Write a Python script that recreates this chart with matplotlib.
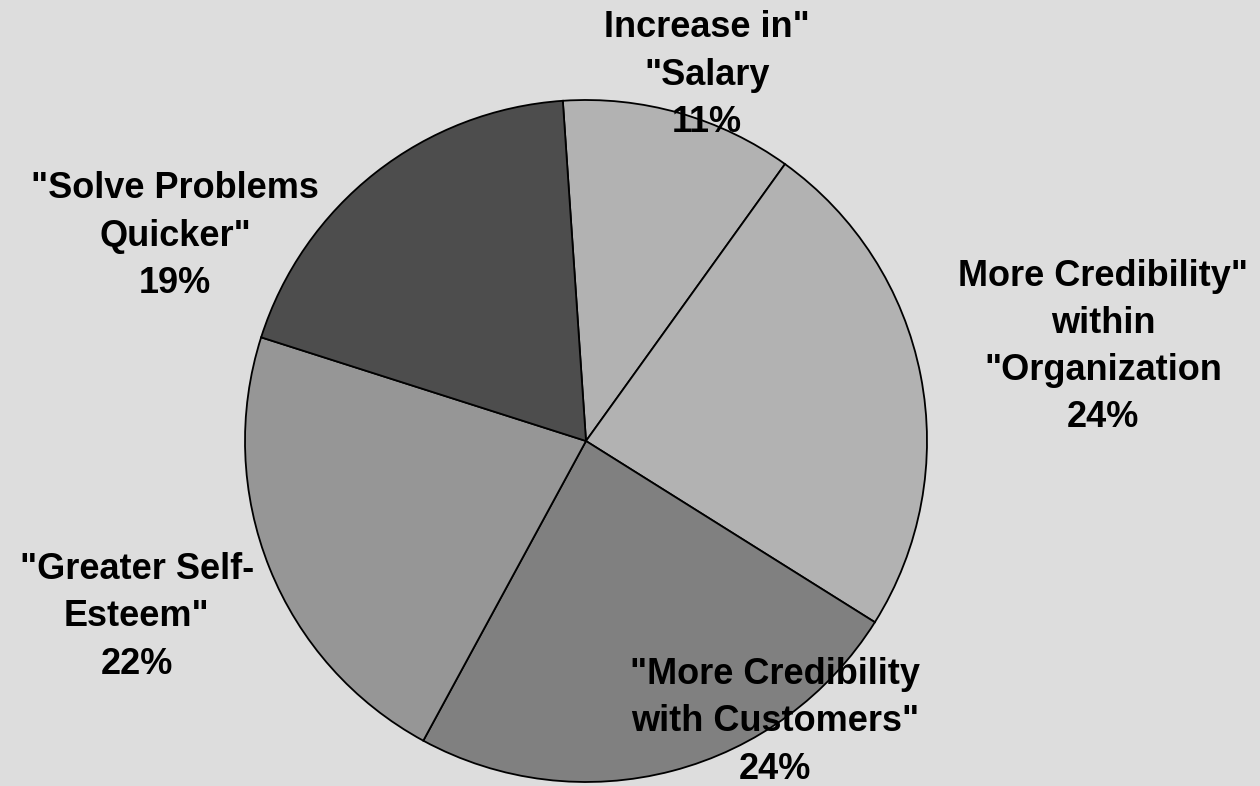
import matplotlib
matplotlib.use("Agg")
import matplotlib.pyplot as plt

categories = ['Increase in"\n"Salary',
              'More Credibility"\nwithin\n"Organization',
              '"More Credibility\nwith Customers"',
              '"Greater Self-\nEsteem"',
              '"Solve Problems\nQuicker"']
values = [11, 24, 24, 22, 19]
colors = ['#b2b2b2', '#b2b2b2', '#808080', '#969696', '#4d4d4d']
label_pos = [(0.355, 1.073), (1.516, 0.276), (0.554, -0.824),
             (-1.317, -0.516), (-1.205, 0.601)]

fig = plt.figure(figsize=(12.6, 7.86), dpi=100)
fig.patch.set_facecolor('#dddddd')
ax = fig.add_axes([245/1260, 4/786, 682/1260, 682/786])
ax.set_facecolor('#dddddd')

wedges, _ = ax.pie(values, colors=colors, startangle=93.9, counterclock=False,
                   radius=1.0, wedgeprops=dict(edgecolor='black', linewidth=1.3))
ax.set_xlim(-1, 1)
ax.set_ylim(-1, 1)
ax.set_aspect('equal')
ax.axis('off')

for cat, v, (x, y) in zip(categories, values, label_pos):
    ax.text(x, y, f"{cat}\n{v}%", ha='center', va='center',
            fontsize=26, fontweight='bold', family='Liberation Sans',
            linespacing=1.45, clip_on=False, color='black')

fig.savefig('out.png', dpi=100, facecolor=fig.get_facecolor())
